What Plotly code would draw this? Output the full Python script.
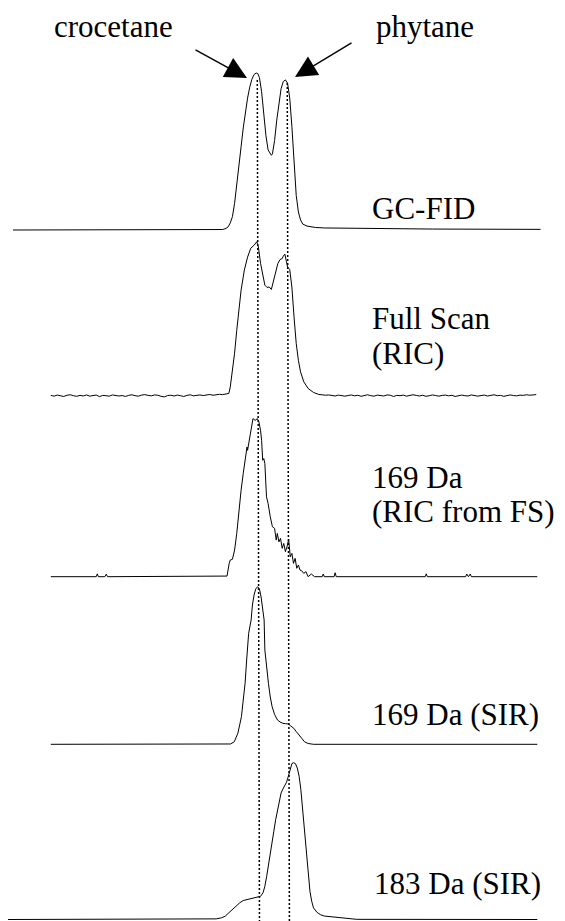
import plotly.graph_objects as go

# ---------------- data (retention time in scan units, intensity in % of panel max) -------------
gcfid_t = [12, 100, 200, 206, 209, 211, 213, 215, 217, 219, 221, 223, 225, 227, 229, 231, 233, 235,
           237, 238.5, 240, 242, 244, 246, 248, 250, 251, 252, 254, 256, 258, 260, 262, 264, 266,
           268, 270, 272, 274, 276, 278, 280, 284, 292, 300, 400, 500]
gcfid_i = [0, 0, 0, 0.3, 1, 2, 4.5, 8.5, 17, 28, 40, 53, 65, 75, 84, 91, 96, 99,
           100, 99.6, 97, 88, 73, 60, 51, 48, 47.6, 48.5, 57, 70, 82, 90, 94.5, 95.6, 93.5,
           84, 66, 42, 22, 11.5, 6.4, 3.8, 2.5, 1.6, 1.3, 0.6, 0.4]

fs_noise_left = [0.2, -0.3, 0.4, 0.1, -0.5, 0.3, 0.6, 0.0, -0.4, 0.2, -0.2, 0.5, -0.3, 0.1, 0.4,
                 -0.6, 0.2, 0.0, -0.3, 0.5, 0.3, -0.2, 0.1, -0.5, 0.2, 0.6, 0.0, -0.3, 0.4, 0.7,
                 0.2, -0.1, 0.5, 0.3, -0.4, -0.8, 0.1, 0.3, -0.2, 0.4, 0.0, -0.5, 0.2, 0.6, -0.1,
                 0.3, 0.5, 0.1, 0.4, 0.8, 0.3, 0.6, 0.9, 0.7, 1.0]
fs_peak_t = [211.7, 213, 215, 217, 219, 221, 223, 226, 229, 232, 235, 237.5, 239, 241, 243, 245,
             247, 249, 251, 253, 255, 257, 259, 261, 262, 263.5, 265, 266, 268, 270, 272, 274,
             276, 278, 281, 285, 290, 295]
fs_peak_i = [1.5, 5.7, 16.6, 27.6, 42.5, 55.5, 68.5, 81.5, 90, 95.8, 97.7, 100, 96.6, 86, 79.5,
             71.8, 70.3, 70.6, 69, 75, 80.4, 85.8, 88.4, 89, 90.6, 91.9, 86.9, 83.6, 81.9, 70.6,
             51, 33.9, 23, 15.5, 9, 4.7, 2.1, 0.8]
fs_noise_right = [0.6, 0.3, 0.5, 0.1, -0.2, 0.4, 0.2, -0.3, 0.1, 0.5, -0.1, 0.3, -0.4, 0.2, 0.6,
                  0.0, -0.3, 0.4, 0.1, -0.2, 0.5, 0.3, -0.5, 0.2, 0.0, 0.4, -0.3, 0.1, 0.6, 0.2,
                  -0.2, 0.3, -0.4, 0.0, 0.5, 0.1, -0.3, 0.2, 0.4, -0.1, 0.3, -0.5, 0.1, 0.4, 0.0,
                  -0.2, 0.5, 0.2, -0.3, 0.1, 0.4, -0.2, 0.3, 0.6, 0.0, 0.2, -0.4, 0.3, 0.5, 0.1,
                  -0.1, 0.4, 0.2, 0.6, 0.3, 0.5, 0.7]
scan_step = 3
fs_left_start = 47
fs_right_start = 298

ric_t = [47, 89, 90, 91, 97, 98.3, 99.5, 210, 212, 213, 215, 217, 219, 221, 223, 225, 227, 228.5,
         229, 230, 232, 234, 236, 238, 239.5, 241, 242, 243, 244, 245, 246.5, 248, 250, 252, 254,
         255.5, 256.5, 258, 259.5, 261, 262.5, 264, 265.5, 267, 268.5, 270, 271.5, 273, 274.5,
         276, 277.5, 279, 281, 283, 285, 288, 291, 298, 299, 300, 309, 310, 311, 393.3, 394.3,
         395.3, 430.7, 431.7, 433.3, 435, 436, 497]
ric_i = [0, 0, 1.8, 0, 0, 1.6, 0, 0.4, 8.4, 10.5, 11, 16.8, 27.3, 42, 54.6, 65.2, 73.5, 81.9,
         79.8, 84, 90.3, 99.8, 98.7, 99.8, 97.7, 92.4, 86, 73.5, 74.6, 71.4, 50.4, 46.2, 37.8,
         31.5, 30.5, 23.1, 27.3, 22, 24.2, 17.9, 21, 15.8, 18.9, 23.5, 12.6, 14.7, 8.4, 11.6, 5.3,
         7.4, 4.2, 3.8, 2.1, 3.2, 0, 1.7, 0, 0, 1.7, 0, 0, 2.5, 0, 0, 1.8, 0, 0, 1.7, 0, 1.7, 0, 0]

sir169_t = [47, 195, 210, 213.3, 216.7, 218.5, 220, 221.5, 223.3, 225, 226.7, 228.3, 230, 232.3,
            233.5, 235, 236.5, 238.3, 240, 241.5, 242.5, 244.3, 245, 246.5, 248.3, 250, 251.7,
            254, 256.7, 259, 261.7, 264, 266.7, 269, 271.7, 274, 276.7, 279, 281.7, 285, 290, 497]
sir169_i = [0, 0, 0.2, 0.2, 1.6, 4, 7, 11.6, 17.5, 28.1, 38.7, 54.8, 70.4, 78.9,
            88.4, 94.7, 98.5, 100, 98.5, 93.5, 87.1, 78.9, 59.8, 49, 38.7, 30, 23.9,
            18.9, 15.4, 14.2, 13.3, 13.1, 12.9, 11.6, 10.2, 8.1, 5.9, 3.7, 1.6, 0.5, 0, 0]

sir183_t = [6.7, 183, 200, 205, 208.3, 211.7, 215, 218.3, 221.7, 225, 228.3, 231.7, 235, 238.3,
            241, 243.3, 245, 246.7, 248.3, 250, 251.7, 253.3, 255, 256.7, 258.3, 260, 261.7,
            263.3, 265, 266.7, 268.3, 270, 271.7, 273.3, 275, 276.7, 278.3, 280, 281.7, 283.3,
            285, 286.7, 288.3, 290, 293.3, 296.7, 300, 310, 320, 330, 497]
sir183_i = [0, 0, 0.4, 1.1, 2.1, 4.3, 6.4, 8.5, 10.6, 12.1, 12.7, 13.4, 13.8, 14.2,
            14.8, 17, 21.2, 27.6, 34, 41.4, 48.8, 56.3, 63.7, 70.1, 75.4, 80.7, 83.2,
            84.9, 87.5, 91.3, 95.5, 99.4, 100, 99.4, 96.6, 91.3, 82.8, 70.1, 55.2, 40.3,
            27.6, 18, 11.7, 7.4, 4.5, 3.0, 2.2, 1.4, 0.6, 0.1, 0]

peak_times = [238, 265.7]          # crocetane, phytane retention (top of marker lines)
peak_times_end = [240, 267.7]      # same lines at the bottom of the figure

labels_right = [["GC-FID"], ["Full Scan", "(RIC)"], ["169 Da", "(RIC from FS)"],
                ["169 Da (SIR)"], ["183 Da (SIR)"]]
compound_names = ["crocetane", "phytane"]

# ---------------- assemble traces ----------------
fs_t = ([fs_left_start + scan_step * k for k in range(len(fs_noise_left))] + fs_peak_t +
        [fs_right_start + scan_step * k for k in range(len(fs_noise_right))])
fs_i = fs_noise_left + fs_peak_i + fs_noise_right

series = [(gcfid_t, gcfid_i), (fs_t, fs_i), (ric_t, ric_i), (sir169_t, sir169_i),
          (sir183_t, sir183_i)]

# ---------------- layout (target page pixels; the page body adds an 8 px offset) ----------
OFF = 8
PAGE_W, PAGE_H = 565, 921
W, H = PAGE_W - OFF, PAGE_H - OFF
panel_px = [(230, 73), (395.7, 241.7), (576.7, 418.3), (744.3, 586.7), (919.5, 762.7)]  # base, top
text_px = [[(373, 208)], [(373, 318), (373, 354)], [(373, 477.5), (373, 511.5)],
           [(373, 714.5)], [(375, 883)]]
KX = 2.775 / 3   # scan units per page pixel
X_RANGE = [OFF * KX, PAGE_W * KX]


def px_x(px):
    return (px - OFF) / W


def px_y(py):
    return 1 - (py - OFF) / H


fig = go.Figure()
layout_axes = {}
for k, ((t, inten), (base, top)) in enumerate(zip(series, panel_px)):
    pad = 4
    unit = (base - top) / 100.0
    b = base - OFF
    tp = top - OFF
    dbot = min(b + pad, H)
    dtop = max(tp - pad, 0)
    r0 = -(dbot - b) / unit
    r1 = 100 + (tp - dtop) / unit
    name = "yaxis" if k == 0 else f"yaxis{k + 1}"
    layout_axes[name] = dict(domain=[1 - dbot / H, 1 - dtop / H], range=[r0, r1],
                             visible=False, anchor="x", fixedrange=True)
    fig.add_trace(go.Scatter(x=t, y=inten, mode="lines", xaxis="x",
                             yaxis="y" if k == 0 else f"y{k + 1}",
                             line=dict(color="black", width=1), hoverinfo="skip",
                             showlegend=False))

fig.update_layout(**layout_axes)
fig.update_layout(
    width=W, height=H, autosize=False,
    margin=dict(l=0, r=0, t=0, b=0),
    paper_bgcolor="white", plot_bgcolor="rgba(0,0,0,0)",
    xaxis=dict(range=X_RANGE, domain=[0, 1], visible=False, fixedrange=True),
    showlegend=False,
    font=dict(family="Liberation Serif"),
)

FONT = dict(family="Liberation Serif", size=31, color="black")

# marker lines through the two peaks
top_y = [80, 83]
for t0, t1, ty in zip(peak_times, peak_times_end, top_y):
    fig.add_shape(type="line", xref="x", yref="paper", x0=t0, x1=t1,
                  y0=px_y(ty), y1=px_y(PAGE_H), line=dict(color="black", width=1.5,
                                                           dash="2px,2px"))

# right-hand labels
for lines, poss in zip(labels_right, text_px):
    for txt, (px, py) in zip(lines, poss):
        fig.add_annotation(text=txt, x=px_x(px - 2), y=px_y(py), xref="paper", yref="paper",
                           xanchor="left", yanchor="middle", showarrow=False, font=FONT,
                           borderpad=0)

# compound names and arrows
name_px = [(55, 27), (377, 26)]
for txt, (px, py) in zip(compound_names, name_px):
    fig.add_annotation(text=txt, x=px_x(px - 2), y=px_y(py), xref="paper", yref="paper",
                       xanchor="left", yanchor="middle", showarrow=False, font=FONT,
                       borderpad=0)

arrows = [((247, 78), (194, 49)), ((295, 77), (353, 42))]
for (tx, ty), (sx, sy) in arrows:
    fig.add_annotation(text="", x=px_x(tx), y=px_y(ty), xref="paper", yref="paper",
                       ax=sx - tx, ay=sy - ty, showarrow=True, arrowhead=2, arrowsize=3.1,
                       arrowwidth=1.4, arrowcolor="black", standoff=0)

fig.write_html("out.html", config={"displayModeBar": False})
